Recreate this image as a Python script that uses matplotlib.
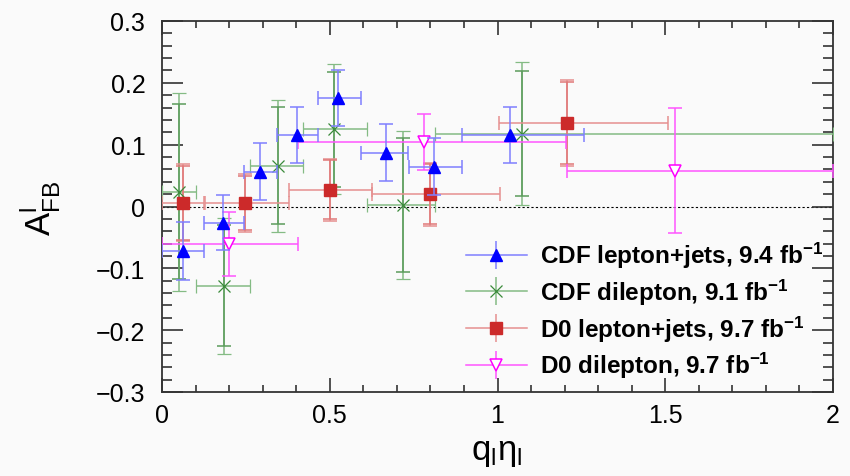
import matplotlib
matplotlib.use("Agg")
import matplotlib.pyplot as plt
from matplotlib.ticker import MultipleLocator
from matplotlib.lines import Line2D
from matplotlib.legend_handler import HandlerTuple
import numpy as np

plt.rcParams['font.family'] = ['Liberation Sans', 'DejaVu Sans']
plt.rcParams['mathtext.fontset'] = 'custom'
plt.rcParams['mathtext.rm'] = 'Liberation Sans'
plt.rcParams['mathtext.it'] = 'Liberation Sans:italic'
plt.rcParams['mathtext.bf'] = 'Liberation Sans:bold'

# CDF lepton+jets
cdf_lj_x = [0.063, 0.182, 0.291, 0.403, 0.526, 0.668, 0.812, 1.037]
cdf_lj_xlo = [0.0, 0.124, 0.243, 0.343, 0.465, 0.594, 0.737, 0.894]
cdf_lj_xhi = [0.124, 0.243, 0.343, 0.465, 0.594, 0.734, 0.894, 1.258]
cdf_lj_y = [-0.072, -0.026, 0.056, 0.116, 0.175, 0.087, 0.064, 0.116]
cdf_lj_err = [0.047, 0.045, 0.046, 0.045, 0.045, 0.046, 0.046, 0.045]

# CDF dilepton
cdf_dl_x = [0.051, 0.184, 0.346, 0.513, 0.718, 1.072]
cdf_dl_xlo = [0.0, 0.100, 0.261, 0.421, 0.612, 0.815]
cdf_dl_xhi = [0.100, 0.261, 0.421, 0.611, 0.815, 2.0]
cdf_dl_y = [0.024, -0.128, 0.066, 0.125, 0.002, 0.118]
cdf_dl_tot = [0.160, 0.110, 0.107, 0.105, 0.120, 0.115]
cdf_dl_stat = [0.142, 0.098, 0.095, 0.093, 0.108, 0.101]

# D0 lepton+jets
d0_lj_x = [0.064, 0.246, 0.500, 0.799, 1.207]
d0_lj_xlo = [0.0, 0.127, 0.378, 0.627, 1.005]
d0_lj_xhi = [0.124, 0.378, 0.627, 1.007, 1.508]
d0_lj_y = [0.006, 0.006, 0.027, 0.020, 0.135]
d0_lj_tot = [0.062, 0.047, 0.050, 0.051, 0.070]
d0_lj_stat = [0.060, 0.044, 0.048, 0.048, 0.066]

# D0 dilepton
d0_dl_x = [0.199, 0.780, 1.528]
d0_dl_xlo = [0.0, 0.406, 1.207]
d0_dl_xhi = [0.406, 1.204, 2.0]
d0_dl_y = [-0.061, 0.104, 0.058]
d0_dl_err = [0.052, 0.045, 0.101]

labels = [r'CDF lepton+jets, 9.4 fb$^{\mathbf{-1}}$',
          r'CDF dilepton, 9.1 fb$^{\mathbf{-1}}$',
          r'D0 lepton+jets, 9.7 fb$^{\mathbf{-1}}$',
          r'D0 dilepton, 9.7 fb$^{\mathbf{-1}}$']


def xerrs(x, lo, hi):
    x = np.array(x)
    return [x - np.array(lo), np.array(hi) - x]


def legend_handle(color, ecolor, marker, ms, mfc=None, mew=1.0):
    # horizontal bar, vertical bar, marker on top of each other
    hline = Line2D([], [], color=ecolor, lw=1.1)
    vline = Line2D([], [], color=ecolor, ls='none', marker='|', ms=20, mew=1.1)
    mark = Line2D([], [], color=color, ls='none', marker=marker, ms=ms,
                  mfc=mfc if mfc else color, mew=mew)
    return (hline, vline, mark)


bg = '#fafafa'
fig = plt.figure(figsize=(8.5, 4.77), dpi=100, facecolor=bg)
ax = fig.add_axes([162 / 850, 1 - 393 / 477, (833 - 162) / 850, (393 - 22) / 477])
ax.set_facecolor(bg)

ax.axhline(0, color='black', lw=0.8, ls=(0, (2, 2)), zorder=1)

# CDF lepton+jets
ax.errorbar(cdf_lj_x, cdf_lj_y, xerr=xerrs(cdf_lj_x, cdf_lj_xlo, cdf_lj_xhi),
            yerr=cdf_lj_err, fmt='^', color='#0000ff', ms=8,
            ecolor='#7f7fff', elinewidth=1.1, capsize=5, capthick=1.1, zorder=5)

# CDF dilepton: total + stat
ax.errorbar(cdf_dl_x, cdf_dl_y, xerr=xerrs(cdf_dl_x, cdf_dl_xlo, cdf_dl_xhi),
            yerr=cdf_dl_tot, fmt='x', color='#3a8a3a', ms=9, mew=0.9,
            ecolor='#84bb84', elinewidth=1.1, capsize=5, capthick=1.1, zorder=4)
ax.errorbar(cdf_dl_x, cdf_dl_y, yerr=cdf_dl_stat, fmt='none',
            ecolor='#5c9c5c', elinewidth=1.1, capsize=5, capthick=1.1, zorder=4)

# D0 lepton+jets: total + stat
ax.errorbar(d0_lj_x, d0_lj_y, xerr=xerrs(d0_lj_x, d0_lj_xlo, d0_lj_xhi),
            yerr=d0_lj_tot, fmt='s', color='#cc2a2a', ms=8.5,
            ecolor='#e69090', elinewidth=1.1, capsize=5, capthick=1.1, zorder=4)
ax.errorbar(d0_lj_x, d0_lj_y, yerr=d0_lj_stat, fmt='none',
            ecolor='#e07878', elinewidth=1.1, capsize=5, capthick=1.1, zorder=4)

# D0 dilepton
ax.errorbar(d0_dl_x, d0_dl_y, xerr=xerrs(d0_dl_x, d0_dl_xlo, d0_dl_xhi),
            yerr=d0_dl_err, fmt='v', color='#ff00ff', ms=9, mfc='white', mew=1.1,
            ecolor='#ff55ff', elinewidth=1.1, capsize=5, capthick=1.1, zorder=4)

handles = [legend_handle('#0000ff', '#7f7fff', '^', 8),
           legend_handle('#3a8a3a', '#84bb84', 'x', 9, mew=0.9),
           legend_handle('#cc2a2a', '#e69090', 's', 8.5),
           legend_handle('#ff00ff', '#ff55ff', 'v', 9, mfc='white', mew=1.1)]

ax.set_xlim(0, 2)
ax.set_ylim(-0.3, 0.3)
ax.xaxis.set_minor_locator(MultipleLocator(0.1))
ax.yaxis.set_minor_locator(MultipleLocator(0.02))
ax.set_xticks([0, 0.5, 1, 1.5, 2])
ax.set_xticklabels(['0', '0.5', '1', '1.5', '2'])
ax.set_yticks([-0.3, -0.2, -0.1, 0, 0.1, 0.2, 0.3])
ax.set_yticklabels(['\u22120.3', '\u22120.2', '\u22120.1', '0', '0.1', '0.2', '0.3'])

ax.tick_params(which='both', direction='in', top=True, right=True,
               labelsize=18, color='#333333', width=1.2)
ax.tick_params(axis='y', which='major', length=15, pad=12)
ax.tick_params(axis='y', which='minor', length=7)
ax.tick_params(axis='x', which='major', length=10, pad=8)
ax.tick_params(axis='x', which='minor', length=5)
for s in ax.spines.values():
    s.set_color('#333333')
    s.set_linewidth(1.3)

fig.text(40 / 850, 1 - 208 / 477, r'$\mathrm{A^{l}_{FB}}$', fontsize=25,
         rotation=90, ha='center', va='center')
fig.text(497 / 850, 1 - 453 / 477, r'$\mathrm{q_{l}\eta_{l}}$', fontsize=25,
         ha='center', va='center')

fig.legend(handles, labels, loc='upper left',
           bbox_to_anchor=(466 / 850, 1 - 241 / 477),
           handler_map={tuple: HandlerTuple(ndivide=1)},
           frameon=False, borderpad=0, borderaxespad=0,
           handlelength=2.5, handletextpad=0.55,
           labelspacing=0.27, prop={'size': 17.5, 'weight': 'bold'})

fig.savefig('out.png', dpi=100, facecolor=bg)
